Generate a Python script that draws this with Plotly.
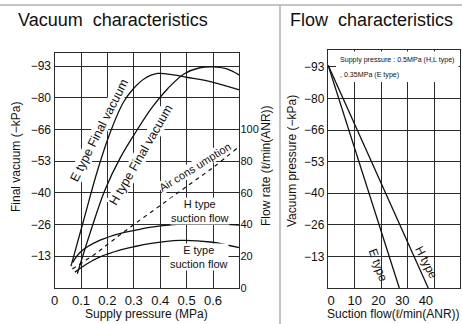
import plotly.graph_objects as go

# ---------------- data ----------------
# Vacuum characteristics (left chart)
e_final_p = [0.062, 0.11, 0.162, 0.212, 0.26, 0.30, 0.34, 0.39, 0.45, 0.50, 0.60, 0.70]
e_final_v = [9.2, 28.5, 49.2, 65.8, 78.0, 84.0, 88.0, 90.2, 89.6, 88.6, 86.5, 83.3]

h_final_p = [0.086, 0.14, 0.19, 0.25, 0.31, 0.37, 0.43, 0.49, 0.55, 0.60, 0.65, 0.70]
h_final_v = [6.0, 25.0, 41.0, 55.0, 66.0, 76.0, 84.0, 90.0, 92.6, 93.0, 92.2, 89.5]

air_p = [0.067, 0.15, 0.22, 0.30, 0.40, 0.50, 0.60, 0.69]
air_flow = [12, 21, 30, 40, 52, 64, 76, 88]

h_flow_p = [0.068, 0.10, 0.17, 0.25, 0.30, 0.36, 0.45, 0.53, 0.60, 0.70]
h_flow = [16, 23, 30, 34.5, 36.2, 38.2, 40.0, 40.8, 40.6, 39.6]

e_flow_p = [0.077, 0.12, 0.172, 0.25, 0.30, 0.36, 0.475, 0.59, 0.70]
e_flow = [10, 15, 19.6, 24, 26, 28, 30, 29, 25.4]

# Flow characteristics (right chart)
e_suction = [-1.2, 28.8]
e_vac = [94, 0]
h_suction = [-1.2, 41.0]
h_vac = [94, 0]

vac_tickvals = [13.33, 26.67, 40.0, 53.33, 66.67, 80.0, 93.33]
vac_ticktext = ["\u221213", "\u221226", "\u221240", "\u221253", "\u221266", "\u221280", "\u221293"]
press_tickvals = [0, 0.1, 0.2, 0.3, 0.4, 0.5, 0.6]
press_ticktext = ["0", "0.1", "0.2", "0.3", "0.4", "0.5", "0.6"]
flow_tickvals = [0, 20, 40, 60, 80, 100]
suction_tickvals = [0, 10, 20, 30, 40]

W, H = 462, 324
def px(x):
    return x / W
def py(y):
    return 1 - y / H

FONT = "Liberation Sans, Arial, sans-serif"
GRID = "#2a2a2a"
LINE = "#111111"

fig = go.Figure()
ln = dict(color=LINE, width=1.3)
fig.add_trace(go.Scatter(x=e_final_p, y=e_final_v, mode="lines", line=dict(shape="spline", **ln), xaxis="x", yaxis="y"))
fig.add_trace(go.Scatter(x=h_final_p, y=h_final_v, mode="lines", line=dict(shape="spline", **ln), xaxis="x", yaxis="y"))
fig.add_trace(go.Scatter(x=air_p, y=air_flow, mode="lines", line=dict(shape="spline", dash="4px,4px", color=LINE, width=1.2), xaxis="x", yaxis="y2"))
fig.add_trace(go.Scatter(x=h_flow_p, y=h_flow, mode="lines", line=dict(shape="spline", **ln), xaxis="x", yaxis="y2"))
fig.add_trace(go.Scatter(x=e_flow_p, y=e_flow, mode="lines", line=dict(shape="spline", **ln), xaxis="x", yaxis="y2"))
fig.add_trace(go.Scatter(x=e_suction, y=e_vac, mode="lines", line=ln, xaxis="x3", yaxis="y3"))
fig.add_trace(go.Scatter(x=h_suction, y=h_vac, mode="lines", line=ln, xaxis="x3", yaxis="y3"))

axcommon = dict(showline=True, linecolor=GRID, linewidth=1.3, mirror=True, gridcolor=GRID, gridwidth=1.2,
                zeroline=False, ticks="", fixedrange=True, automargin=False)

fig.update_layout(
    template="none",
    width=W, height=H, margin=dict(l=0, r=0, t=0, b=0, pad=0), autosize=False,
    paper_bgcolor="white", plot_bgcolor="white", showlegend=False,
    font=dict(family=FONT, color="#111"),
    xaxis=dict(domain=[px(54.6), px(239.4)], range=[0, 0.7], anchor="y",
               tickmode="array", tickvals=press_tickvals, ticktext=press_ticktext,
               tickfont=dict(size=13), showgrid=True, **axcommon),
    yaxis=dict(domain=[py(288), py(53)], range=[0, 98.8], anchor="x",
               tickmode="array", tickvals=vac_tickvals, ticktext=vac_ticktext,
               tickfont=dict(size=12), showgrid=True, **axcommon),
    yaxis2=dict(overlaying="y", side="right", anchor="x", range=[0, 148.2],
                tickmode="array", tickvals=flow_tickvals, showgrid=False, showline=False,
                zeroline=False, ticks="", tickfont=dict(size=11), automargin=False, fixedrange=True),
    xaxis3=dict(domain=[px(328), px(460)], range=[-1.27, 54.4], anchor="y3",
                tickmode="array", tickvals=suction_tickvals, tickfont=dict(size=13),
                showgrid=False,
                minor=dict(tickmode="array", tickvals=[9.9, 21.1, 32.3, 43.5], showgrid=True,
                           gridcolor=GRID, gridwidth=1.2, ticks=""),
                **{k: v for k, v in axcommon.items() if k not in ("gridcolor", "gridwidth")}),
    yaxis3=dict(domain=[py(288), py(50)], range=[0, 100.5], anchor="x3",
                tickmode="array", tickvals=vac_tickvals, ticktext=vac_ticktext,
                tickfont=dict(size=12), showgrid=True, **axcommon),
)

shapes = [
    dict(type="line", xref="paper", yref="paper", x0=0, x1=1, y0=py(5), y1=py(5),
         line=dict(color="#b0b0b0", width=1.5)),
    dict(type="line", xref="paper", yref="paper", x0=px(280), x1=px(280), y0=py(5), y1=0,
         line=dict(color="#b0b0b0", width=1.5)),
    dict(type="rect", xref="paper", yref="paper", x0=px(336), x1=px(458.5), y0=py(82), y1=py(51.5),
         fillcolor="white", line=dict(width=0), layer="above"),
]
fig.update_layout(shapes=shapes)

def ann(text, x, y, size, angle=0, **kw):
    d = dict(text=text, x=px(x), y=py(y), xref="paper", yref="paper", showarrow=False,
             xanchor="center", yanchor="middle",
             font=dict(size=size, family=FONT, color="#111"), textangle=angle)
    d.update(kw)
    return d

wb = dict(bgcolor="white", borderpad=0)
anns = [
    ann("Vacuum  characteristics", 112.5, 20, 18),
    ann("Flow  characteristics", 371, 20, 18),
    ann("Supply pressure (MPa)", 146, 314, 12),
    ann("Suction flow(\u2113/min(ANR))", 393, 314, 12),
    ann("Final vacuum (\u2212kPa)", 16, 157, 12, -90),
    ann("Flow rate (\u2113/min(ANR))", 266, 166, 12, -90),
    ann("Vacuum pressure (\u2212kPa)", 292, 161, 12, -90),
    ann("E type Final vacuum", 99, 131, 12.5, -63, **wb),
    ann("H type Final vacuum", 141, 155, 12.5, -60, **wb),
    ann("Air cons umption", 195, 167, 11, -32, **wb),
    ann("H type<br>suction flow", 200, 211, 11, 0, **wb),
    ann("E type<br>suction flow", 199, 257, 11, 0, **wb),
    ann("E type", 378, 265, 12, 70),
    ann("H type", 426, 262, 12, 63),
    ann("Supply pressure : 0.5MPa (H,L type)", 338, 60, 7.1, 0, xanchor="left"),
    ann(", 0.35MPa (E type)", 338, 75, 7.1, 0, xanchor="left"),
]
fig.update_layout(annotations=anns)

fig.write_html("out.html", config={"displayModeBar": False},
               post_script="document.body.style.margin='0';document.body.style.padding='0';"
                           "document.body.style.overflow='hidden';")
